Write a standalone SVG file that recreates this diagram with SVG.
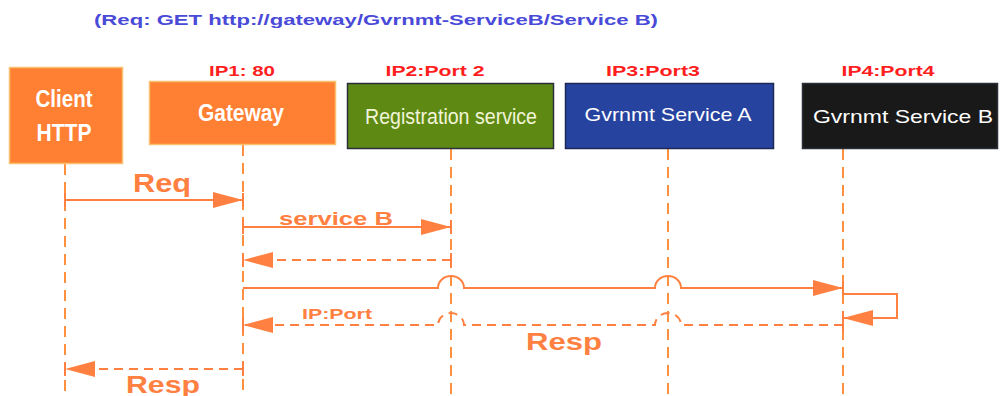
<svg xmlns="http://www.w3.org/2000/svg" width="1000" height="396" viewBox="0 0 1000 396">
  <style>
    .life { stroke: #ff9040; stroke-width: 2; stroke-dasharray: 11 7; fill: none; }
    .msg { stroke: #ff8040; stroke-width: 2; fill: none; }
    .ret { stroke: #ff8040; stroke-width: 2; stroke-dasharray: 9 6; fill: none; }
    .tick { stroke: #ff8040; stroke-width: 2; }
    .port { font-family: "Liberation Sans", Arial, sans-serif; font-weight: bold; font-size: 14px; fill: #ff1e1e; text-anchor: middle; }
    .cond { font-family: "Liberation Sans Narrow", "Liberation Sans", Arial, sans-serif; font-weight: bold; fill: #ffffff; text-anchor: middle; }
    .svc { font-family: "Liberation Sans", Arial, sans-serif; font-size: 19px; fill: #ffffff; text-anchor: middle; }
    .lbl { font-family: "Liberation Sans", Arial, sans-serif; font-weight: bold; fill: #ff8040; }
  </style>
  <defs>
    <marker id="head" markerUnits="userSpaceOnUse" markerWidth="30" markerHeight="16" refX="30" refY="8" orient="auto">
      <path d="M0,0 L30,8 L0,16 Z" fill="#ff8040"/>
    </marker>
  </defs>

  <rect width="1000" height="396" fill="#ffffff"/>

  <text x="376" y="25" font-family="Liberation Sans, Arial, sans-serif" font-weight="bold" font-size="15" fill="#4a4ad8" text-anchor="middle" textLength="564" lengthAdjust="spacingAndGlyphs">(Req: GET http://gateway/Gvrnmt-ServiceB/Service B)</text>

  <!-- lifelines -->
  <g id="lifelines">
    <line class="life" x1="65" y1="164" x2="65" y2="396"/>
    <line class="life" x1="243" y1="145" x2="243" y2="396"/>
    <line class="life" x1="451" y1="149" x2="451" y2="396"/>
    <line class="life" x1="668" y1="149" x2="668" y2="396"/>
    <line class="life" x1="843" y1="149" x2="843" y2="396"/>
  </g>

  <g id="client">
    <rect x="9.5" y="67.5" width="113" height="96" fill="#ff8033" stroke="#f9c070" stroke-width="1.5"/>
    <text class="cond" x="64" y="107" font-size="24" textLength="57" lengthAdjust="spacingAndGlyphs">Client</text>
    <text class="cond" x="64" y="141" font-size="24" textLength="55" lengthAdjust="spacingAndGlyphs">HTTP</text>
  </g>

  <g id="gateway">
    <text class="port" x="242" y="76" textLength="66" lengthAdjust="spacingAndGlyphs">IP1: 80</text>
    <rect x="149.5" y="81.5" width="186" height="63" fill="#ff8033" stroke="#f9c070" stroke-width="1.5"/>
    <text class="cond" x="241" y="121" font-size="23" textLength="86" lengthAdjust="spacingAndGlyphs">Gateway</text>
  </g>

  <g id="registration">
    <text class="port" x="435" y="76" textLength="99" lengthAdjust="spacingAndGlyphs">IP2:Port 2</text>
    <rect x="347.5" y="83.5" width="206" height="65" fill="#5e8a14" stroke="#2a2f3a" stroke-width="1.5"/>
    <text x="451" y="124" font-family="Liberation Sans Narrow, Liberation Sans, Arial, sans-serif" font-size="22" fill="#f2f4d8" text-anchor="middle" textLength="172" lengthAdjust="spacingAndGlyphs">Registration service</text>
  </g>

  <g id="service-a">
    <text class="port" x="653" y="76" textLength="94" lengthAdjust="spacingAndGlyphs">IP3:Port3</text>
    <rect x="565.5" y="83.5" width="208" height="65" fill="#2743a0" stroke="#1c2a55" stroke-width="1.5"/>
    <text class="svc" x="668" y="121" textLength="167" lengthAdjust="spacingAndGlyphs">Gvrnmt Service A</text>
  </g>

  <g id="service-b">
    <text class="port" x="888" y="76" textLength="93" lengthAdjust="spacingAndGlyphs">IP4:Port4</text>
    <rect x="802.5" y="83.5" width="195" height="65" fill="#191919" stroke="#2a2f3a" stroke-width="1.5"/>
    <text class="svc" x="903" y="123" textLength="180" lengthAdjust="spacingAndGlyphs">Gvrnmt Service B</text>
  </g>

  <g id="connectors">
    <!-- activation ticks -->
    <line class="tick" x1="65" y1="193" x2="65" y2="207"/>
    <line class="tick" x1="243" y1="193" x2="243" y2="207"/>
    <line class="tick" x1="243" y1="220" x2="243" y2="234"/>
    <line class="tick" x1="451" y1="220" x2="451" y2="234"/>
    <line class="tick" x1="243" y1="253" x2="243" y2="267"/>
    <line class="tick" x1="451" y1="253" x2="451" y2="267"/>
    <line class="tick" x1="843" y1="281" x2="843" y2="295"/>
    <line class="tick" x1="843" y1="311" x2="843" y2="332"/>
    <line class="tick" x1="243" y1="318" x2="243" y2="332"/>
    <line class="tick" x1="65" y1="362" x2="65" y2="376"/>
    <line class="tick" x1="243" y1="362" x2="243" y2="376"/>

    <!-- Req -->
    <line class="msg" x1="65" y1="200" x2="243" y2="200" marker-end="url(#head)"/>
    <text class="lbl" x="133" y="192" font-size="26" textLength="58" lengthAdjust="spacingAndGlyphs">Req</text>

    <!-- service B -->
    <line class="msg" x1="243" y1="227" x2="451" y2="227" marker-end="url(#head)"/>
    <text class="lbl" x="279" y="225" font-size="18" textLength="114" lengthAdjust="spacingAndGlyphs">service B</text>

    <!-- registry reply -->
    <line class="ret" x1="451" y1="260" x2="243" y2="260" marker-end="url(#head)"/>

    <!-- call to service B, hopping over lifelines -->
    <path class="msg" d="M243,288 H438 A13,12 0 0 1 464,288 H655 A13,12 0 0 1 681,288 H843" marker-end="url(#head)"/>

    <!-- self call -->
    <path class="msg" d="M843,294 H897 V318 H843" marker-end="url(#head)"/>

    <!-- reply with IP:Port -->
    <path class="ret" d="M843,325 H681 A13,12 0 0 0 655,325 H464 A13,12 0 0 0 438,325 H243" marker-end="url(#head)"/>
    <text class="lbl" x="302" y="319" font-size="15" textLength="70" lengthAdjust="spacingAndGlyphs">IP:Port</text>
    <text class="lbl" x="526" y="350" font-size="24" textLength="76" lengthAdjust="spacingAndGlyphs">Resp</text>

    <!-- final response -->
    <line class="ret" x1="243" y1="369" x2="65" y2="369" marker-end="url(#head)"/>
    <text class="lbl" x="126" y="393" font-size="24" textLength="74" lengthAdjust="spacingAndGlyphs">Resp</text>
  </g>
</svg>
